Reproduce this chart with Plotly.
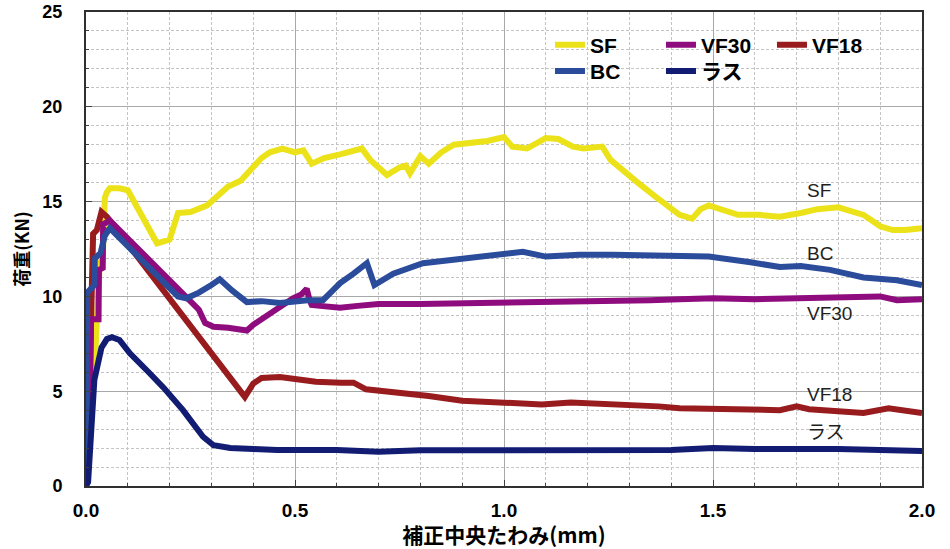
import plotly.graph_objects as go

# ---- data (deflection mm, load kN) ----
sf_x = [0, 0.005, 0.01, 0.02, 0.033, 0.04, 0.045, 0.05, 0.057, 0.08, 0.1, 0.13, 0.17, 0.2, 0.21, 0.22, 0.25,
        0.29, 0.31, 0.34, 0.37, 0.39, 0.42, 0.44, 0.47, 0.5, 0.52, 0.54, 0.57, 0.61, 0.64, 0.66, 0.68,
        0.72, 0.75, 0.765, 0.775, 0.80, 0.82, 0.85, 0.88, 0.92, 0.96, 1.0, 1.02, 1.055, 1.08, 1.10,
        1.13, 1.165, 1.19, 1.22, 1.235, 1.255, 1.28, 1.32, 1.36, 1.40, 1.42, 1.45, 1.47, 1.49, 1.52,
        1.56, 1.61, 1.66, 1.71, 1.75, 1.80, 1.83, 1.86, 1.88, 1.90, 1.93, 1.96, 2.0]
sf_y = [0, 3.0, 4.9, 6.0, 11.8, 11.9, 15.2, 15.5, 15.7, 15.7, 15.6, 14.4, 12.8, 13.0, 13.7, 14.4, 14.45,
        14.8, 15.2, 15.8, 16.1, 16.6, 17.3, 17.6, 17.8, 17.6, 17.7, 17.0, 17.3, 17.5, 17.7, 17.8, 17.2,
        16.4, 16.8, 16.9, 16.5, 17.4, 17.0, 17.6, 18.0, 18.1, 18.2, 18.4, 17.9, 17.8, 18.1, 18.35,
        18.3, 17.9, 17.8, 17.9, 17.9, 17.2, 16.7, 16.0, 15.3, 14.6, 14.3, 14.1, 14.6, 14.8, 14.6,
        14.3, 14.3, 14.2, 14.4, 14.6, 14.7, 14.5, 14.3, 14.0, 13.7, 13.5, 13.5, 13.6]

vf30_x = [0.005, 0.01, 0.012, 0.03, 0.031, 0.04, 0.041, 0.057, 0.1, 0.15, 0.2, 0.256, 0.27, 0.285, 0.305,
          0.34, 0.385, 0.40, 0.42, 0.45, 0.464, 0.495, 0.515, 0.528, 0.535, 0.54, 0.56, 0.608, 0.65,
          0.70, 0.8, 0.94, 1.0, 1.10, 1.18, 1.26, 1.35, 1.42, 1.5, 1.6, 1.7, 1.8, 1.9, 1.94, 2.0]
vf30_y = [3.0, 5.5, 8.8, 8.8, 11.4, 11.5, 13.8, 14.0, 13.05, 11.95, 10.85, 9.6, 9.3, 8.6, 8.4,
          8.35, 8.2, 8.5, 8.8, 9.3, 9.45, 9.9, 10.1, 10.4, 9.8, 9.55, 9.5, 9.4, 9.5,
          9.6, 9.6, 9.65, 9.6, 9.65, 9.7, 9.7, 9.8, 9.85, 9.9, 9.85, 9.9, 9.9, 10.0, 9.8, 9.85]

vf18_x = [0.005, 0.01, 0.013, 0.017, 0.026, 0.03, 0.037, 0.05, 0.38, 0.40, 0.42, 0.464, 0.51, 0.55,
          0.61, 0.64, 0.67, 0.75, 0.82, 0.9, 0.99, 1.09, 1.16, 1.28, 1.37, 1.42, 1.52, 1.61, 1.66,
          1.70, 1.73, 1.86, 1.92, 2.0]
vf18_y = [2.0, 6.0, 10.0, 13.3, 13.5, 14.0, 14.45, 14.2, 4.7, 5.4, 5.7, 5.75, 5.6, 5.5,
          5.45, 5.45, 5.1, 4.95, 4.75, 4.5, 4.4, 4.3, 4.4, 4.3, 4.2, 4.1, 4.05, 4.0, 4.0,
          4.2, 4.05, 3.85, 4.1, 3.85]

bc_x = [0, 0.003, 0.02, 0.021, 0.035, 0.045, 0.057, 0.22, 0.24, 0.27, 0.3, 0.32, 0.35, 0.385, 0.42,
        0.464, 0.53, 0.567, 0.59, 0.608, 0.64, 0.672, 0.69, 0.735, 0.806, 0.9, 0.98, 1.045, 1.10,
        1.18, 1.26, 1.42, 1.49, 1.59, 1.66, 1.71, 1.78, 1.86, 1.94, 2.0]
bc_y = [0, 10.2, 10.6, 12.0, 12.3, 13.2, 13.6, 10.0, 9.9, 10.2, 10.6, 10.9, 10.3, 9.7, 9.75,
        9.65, 9.8, 9.8, 10.3, 10.7, 11.2, 11.75, 10.6, 11.2, 11.75, 12.0, 12.2, 12.35, 12.1,
        12.2, 12.2, 12.1, 12.1, 11.8, 11.55, 11.6, 11.4, 11.0, 10.85, 10.6]

las_x = [0, 0.005, 0.02, 0.03, 0.037, 0.05, 0.062, 0.08, 0.105, 0.15, 0.185, 0.232, 0.26, 0.28, 0.305,
         0.345, 0.4, 0.457, 0.6, 0.7, 0.8, 1.0, 1.2, 1.4, 1.5, 1.6, 1.8, 1.9, 2.0]
las_y = [0, 0.2, 5.6, 6.7, 7.3, 7.75, 7.85, 7.7, 7.0, 6.0, 5.2, 4.0, 3.2, 2.6, 2.15,
         2.0, 1.95, 1.9, 1.9, 1.8, 1.88, 1.9, 1.9, 1.9, 2.0, 1.95, 1.95, 1.9, 1.85]

label_names = ["SF", "BC", "VF30", "VF18", "ラス"]
label_y = [15.6, 12.25, 9.1, 4.8, 2.8]
label_x = 1.72

x_ticks = [0, 0.5, 1.0, 1.5, 2.0]
y_ticks = [0, 5, 10, 15, 20, 25]

# ---- styling ----
C_SF = "#ECE21A"
C_VF30 = "#8E0C7E"
C_VF18 = "#981B1E"
C_BC = "#2B4B9B"
C_LAS = "#111C72"
LW = 6

fig = go.Figure()
fig.add_trace(go.Scatter(x=sf_x, y=sf_y, mode="lines", name="SF",
                         line=dict(color=C_SF, width=LW), legend="legend", legendrank=1))
fig.add_trace(go.Scatter(x=vf18_x, y=vf18_y, mode="lines", name="VF18",
                         line=dict(color=C_VF18, width=LW), legend="legend", legendrank=3))
fig.add_trace(go.Scatter(x=vf30_x, y=vf30_y, mode="lines", name="VF30",
                         line=dict(color=C_VF30, width=LW), legend="legend", legendrank=2))
fig.add_trace(go.Scatter(x=bc_x, y=bc_y, mode="lines", name="BC",
                         line=dict(color=C_BC, width=LW), legend="legend2", legendrank=1))
fig.add_trace(go.Scatter(x=las_x, y=las_y, mode="lines", name="ラス",
                         line=dict(color=C_LAS, width=LW), legend="legend2", legendrank=2))

for name, yv in zip(label_names, label_y):
    fig.add_annotation(x=label_x, y=yv, text=name, showarrow=False, xanchor="left", yanchor="middle",
                       font=dict(family="Liberation Sans, Noto Sans CJK JP", size=19, color="#231F20"))

bold_font = dict(family="Liberation Sans, Noto Sans CJK JP", size=18, color="#000000", weight="bold")
legend_common = dict(orientation="h", bgcolor="rgba(0,0,0,0)", borderwidth=0,
                     font=dict(family="Liberation Sans, Noto Sans CJK JP", size=21, color="#000000",
                               weight="bold"),
                     entrywidth=66, entrywidthmode="pixels", itemwidth=30,
                     xanchor="left", yanchor="middle", traceorder="normal")

fig.update_layout(
    width=950, height=549,
    margin=dict(l=86, r=28, t=12, b=63, autoexpand=False),
    paper_bgcolor="white", plot_bgcolor="white",
    showlegend=True,
    legend=dict(x=0.555, y=0.93, **legend_common),
    legend2=dict(x=0.555, y=0.875, **legend_common),
    xaxis=dict(range=[0, 2], tickvals=x_ticks, tickformat=".1f", automargin=False,
               showgrid=True, gridcolor="#A8A8A8", gridwidth=1,
               minor=dict(dtick=0.1, showgrid=True, gridcolor="#C4C4C4", griddash="3px,2px",
                          ticks="inside", ticklen=3, tickcolor="#404040"),
               ticks="inside", ticklen=6, tickcolor="#404040",
               showline=True, linecolor="#303030", linewidth=2, mirror=True,
               zeroline=False, ticklabelstandoff=6,
               tickfont=dict(family="Liberation Sans Narrow, Liberation Sans", size=19,
                             color="#000", weight="bold"),
               title=dict(text="補正中央たわみ(mm)", standoff=0,
                          font=dict(family="Noto Sans CJK JP", size=21, color="#000", weight="bold"))),
    yaxis=dict(range=[0, 25], tickvals=y_ticks, automargin=False,
               showgrid=True, gridcolor="#A8A8A8", gridwidth=1,
               minor=dict(dtick=1, showgrid=True, gridcolor="#C4C4C4", griddash="3px,2px",
                          ticks="inside", ticklen=3, tickcolor="#404040"),
               ticks="inside", ticklen=6, tickcolor="#404040",
               showline=True, linecolor="#303030", linewidth=2, mirror=True,
               zeroline=False, ticklabelstandoff=18,
               tickfont=bold_font,
               title=dict(text="荷重(KN)", standoff=8,
                          font=dict(family="Noto Sans CJK JP", size=18, color="#000", weight="bold"))),
)

fig.write_html("out.html", config={"displayModeBar": False},
               post_script="document.body.style.margin='0px';")
